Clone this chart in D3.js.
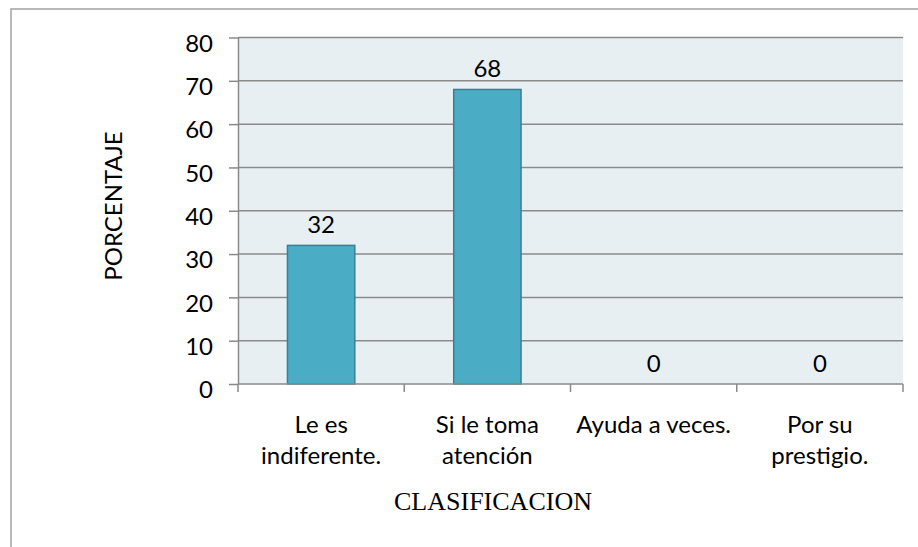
<!DOCTYPE html>
<html>
<head>
<meta charset="utf-8">
<script src="https://cdn.jsdelivr.net/npm/d3@7"></script>
<style>
  body { margin: 0; background: #fff; }
  svg { display: block; }
</style>
</head>
<body>
<svg id="chart" width="918" height="547" font-family="Lato, 'Open Sans', sans-serif"></svg>
<script>
// Data
var categories = ["Le es indiferente.", "Si le toma atención", "Ayuda a veces.", "Por su prestigio."];
var categoryLines = [["Le es", "indiferente."], ["Si le toma", "atención"], ["Ayuda a veces."], ["Por su", "prestigio."]];
var values = [32, 68, 0, 0];
var yTicks = [0, 10, 20, 30, 40, 50, 60, 70, 80];

var svg = d3.select("#chart");

// plot box
var plotLeft = 238, plotRight = 903, plotTop = 37.5, plotBottom = 384;

var x = d3.scaleBand().domain(categories).range([plotLeft, plotRight]).padding(0);
var y = d3.scaleLinear().domain([0, 80]).range([plotBottom, plotTop]);
var barWidth = x.bandwidth() * 0.405;

// outer chart border (runs off the right and bottom edges)
svg.append("rect")
  .attr("x", 11).attr("y", 9)
  .attr("width", 1000).attr("height", 1000)
  .attr("fill", "none")
  .attr("stroke", "#a3a3a3")
  .attr("stroke-width", 1.5);

// plot background
svg.append("rect")
  .attr("x", plotLeft).attr("y", plotTop)
  .attr("width", plotRight - plotLeft).attr("height", plotBottom - plotTop)
  .attr("fill", "#e8eff3");

// gridlines
svg.append("g")
  .selectAll("line")
  .data(yTicks.filter(function (d) { return d > 0; }))
  .enter()
  .append("line")
  .attr("x1", plotLeft).attr("x2", plotRight)
  .attr("y1", function (d) { return y(d); })
  .attr("y2", function (d) { return y(d); })
  .attr("stroke", "#8a8a8a")
  .attr("stroke-width", 1.5);

// bars
svg.append("g")
  .selectAll("rect")
  .data(values)
  .enter()
  .append("rect")
  .attr("x", function (d, i) { return x(categories[i]) + (x.bandwidth() - barWidth) / 2; })
  .attr("y", function (d) { return y(d); })
  .attr("width", barWidth)
  .attr("height", function (d) { return plotBottom - y(d); })
  .attr("fill", "#4bacc6")
  .attr("stroke", "#3a7f93")
  .attr("stroke-width", 1.5);

// data labels
svg.append("g")
  .selectAll("text")
  .data(values)
  .enter()
  .append("text")
  .attr("x", function (d, i) { return x(categories[i]) + x.bandwidth() / 2; })
  .attr("y", function (d) { return y(d) - 12; })
  .attr("text-anchor", "middle")
  .attr("font-size", 24)
  .text(function (d) { return d; });

// y axis
var yAxis = svg.append("g")
  .attr("transform", "translate(" + plotLeft + ",0)")
  .call(d3.axisLeft(y).tickValues(yTicks).tickSize(9).tickSizeOuter(0).tickPadding(16));
yAxis.select(".domain").attr("stroke", "#8a8a8a").attr("stroke-width", 1.5);
yAxis.selectAll(".tick line").attr("stroke", "#8a8a8a").attr("stroke-width", 1.5);
yAxis.selectAll(".tick text")
  .attr("y", 6)
  .attr("font-family", "Lato, 'Open Sans', sans-serif")
  .attr("font-size", 24)
  .attr("fill", "#000");

// x axis line and ticks at category boundaries
var xTickPos = categories.map(function (c) { return x(c); }).concat([plotRight]);
svg.append("line")
  .attr("x1", plotLeft).attr("x2", plotRight)
  .attr("y1", plotBottom).attr("y2", plotBottom)
  .attr("stroke", "#8a8a8a")
  .attr("stroke-width", 1.5);
svg.append("g")
  .selectAll("line")
  .data(xTickPos)
  .enter()
  .append("line")
  .attr("x1", function (d) { return d; })
  .attr("x2", function (d) { return d; })
  .attr("y1", plotBottom).attr("y2", plotBottom + 8)
  .attr("stroke", "#8a8a8a")
  .attr("stroke-width", 1.5);

// category labels
var catLabel = svg.append("g")
  .selectAll("text")
  .data(categoryLines)
  .enter()
  .append("text")
  .attr("text-anchor", "middle")
  .attr("font-size", 24)
  .attr("transform", function (d, i) { return "translate(" + (x(categories[i]) + x.bandwidth() / 2) + ",432.5)"; });
catLabel.selectAll("tspan")
  .data(function (d) { return d; })
  .enter()
  .append("tspan")
  .attr("x", 0)
  .attr("y", function (d, i) { return i * 31.5; })
  .text(function (d) { return d; });

// axis titles
svg.append("text")
  .attr("transform", "translate(122,206) rotate(-90)")
  .attr("text-anchor", "middle")
  .attr("font-size", 24)
  .text("PORCENTAJE");

svg.append("text")
  .attr("x", 493).attr("y", 510)
  .attr("text-anchor", "middle")
  .attr("font-family", "'Liberation Serif', 'Times New Roman', serif")
  .attr("font-size", 26)
  .text("CLASIFICACION");
</script>
</body>
</html>
